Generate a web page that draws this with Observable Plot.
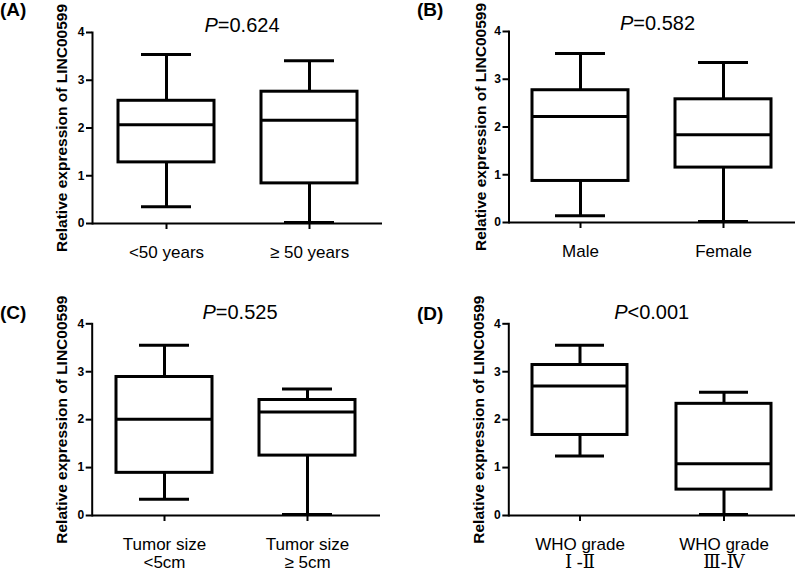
<!DOCTYPE html>
<html><head><meta charset="utf-8">
<script src="https://cdn.jsdelivr.net/npm/d3@7"></script>
<script src="https://cdn.jsdelivr.net/npm/@observablehq/plot@0.6"></script>
<style>
html,body{margin:0;padding:0;background:#fff;}
#fig{position:relative;width:800px;height:572px;overflow:hidden;font-family:"Liberation Sans",Arial,sans-serif;color:#000;background:#fff;}
.panel{position:absolute;}
.panel svg{overflow:visible;}
.letter{position:absolute;font-weight:bold;font-size:19px;line-height:19px;white-space:nowrap;}
.ptitle{position:absolute;font-size:20px;line-height:20px;transform:translateX(-50%);white-space:nowrap;}
</style></head><body><div id="fig"></div>
<script>
// ---- shared ----
const yTicks = [0, 1, 2, 3, 4];
const yLabel = "Relative expression of LINC00599";
const panelLetters = ["(A)", "(B)", "(C)", "(D)"];
const pSymbols = ["=0.624", "=0.582", "=0.525", "<0.001"];

// ---- Panel A: age ----
const groupsA = ["<50 years", "≥ 50 years"];
const lowA    = [0.35, 0.02];
const q1A     = [1.28, 0.84];
const medianA = [2.07, 2.16];
const q3A     = [2.57, 2.76];
const highA   = [3.54, 3.41];

// ---- Panel B: gender ----
const groupsB = ["Male", "Female"];
const lowB    = [0.14, 0.02];
const q1B     = [0.87, 1.15];
const medianB = [2.22, 1.84];
const q3B     = [2.77, 2.58];
const highB   = [3.54, 3.35];

// ---- Panel C: tumor size ----
const groupsC = ["Tumor size\n<5cm", "Tumor size\n≥ 5cm"];
const lowC    = [0.34, 0.02];
const q1C     = [0.89, 1.25];
const medianC = [2.01, 2.16];
const q3C     = [2.89, 2.41];
const highC   = [3.55, 2.64];

// ---- Panel D: WHO grade ----
const groupsD = ["WHO grade\nⅠ -Ⅱ", "WHO grade\nⅢ-Ⅳ"];
const lowD    = [1.24, 0.02];
const q1D     = [1.68, 0.54];
const medianD = [2.70, 1.08];
const q3D     = [3.14, 2.33];
const highD   = [3.55, 2.57];

const panels = [
  {groups: groupsA, low: lowA, q1: q1A, median: medianA, q3: q3A, high: highA,
   left: 0, top: 0, ml: 92, mr: 18, mt: 32, mb: 63, pi: 0.33, po: 0.176,
   letterLeft: 0, letterTop: 0, titleX: 242, titleTop: 15, ylDx: -30,
   l2Dy: 40, l2Size: 17, l2Font: "Liberation Sans, Arial, sans-serif"},
  {groups: groupsB, low: lowB, q1: q1B, median: medianB, q3: q3B, high: highB,
   left: 400, top: 0, ml: 108.5, mr: 5, mt: 31, mb: 64, pi: 0.331, po: 0.164,
   letterLeft: 417, letterTop: 0, titleX: 257.5, titleTop: 13, ylDx: -28,
   l2Dy: 40, l2Size: 17, l2Font: "Liberation Sans, Arial, sans-serif"},
  {groups: groupsC, low: lowC, q1: q1C, median: medianC, q3: q3C, high: highC,
   left: 0, top: 286, ml: 91.7, mr: 20, mt: 37.3, mb: 57, pi: 0.33, po: 0.17,
   letterLeft: 0, letterTop: 303, titleX: 240, titleTop: 302.4, ylDx: -30,
   l2Dy: 40, l2Size: 17, l2Font: "Liberation Sans, Arial, sans-serif"},
  {groups: groupsD, low: lowD, q1: q1D, median: medianD, q3: q3D, high: highD,
   left: 400, top: 286, ml: 108.3, mr: 5, mt: 37.3, mb: 57, pi: 0.338, po: 0.158,
   letterLeft: 417, letterTop: 304, titleX: 251.7, titleTop: 302.4, ylDx: -30,
   l2Dy: 40, l2Size: 18, l2Font: "Liberation Serif, DejaVu Serif, serif"}
];

const fig = document.getElementById("fig");
const line1 = d => d.split("\n")[0];
const line2 = d => d.split("\n")[1] ?? "";

panels.forEach((p, k) => {
  const data = p.groups.map((g, i) => ({group: g, low: p.low[i], q1: p.q1[i], median: p.median[i], q3: p.q3[i], high: p.high[i]}));
  const chart = Plot.plot({
    width: 400, height: 286,
    marginLeft: p.ml, marginRight: p.mr, marginTop: p.mt, marginBottom: p.mb,
    style: {fontFamily: "Liberation Sans, Arial, sans-serif", background: "transparent", overflow: "visible", color: "#000"},
    x: {domain: p.groups, paddingInner: p.pi, paddingOuter: p.po, label: null},
    y: {domain: [0, 4], label: null},
    marks: [
      Plot.ruleX(data, {x: "group", y1: "low", y2: "q1", stroke: "#000", strokeWidth: 3}),
      Plot.ruleX(data, {x: "group", y1: "q3", y2: "high", stroke: "#000", strokeWidth: 3}),
      Plot.barY(data, {x: "group", y1: "q1", y2: "q3", fill: "#fff", stroke: "#000", strokeWidth: 3}),
      Plot.tickY(data, {x: "group", y: "median", stroke: "#000", strokeWidth: 3}),
      Plot.tickY(data, {x: "group", y: "high", stroke: "#000", strokeWidth: 3, insetLeft: 23, insetRight: 23}),
      Plot.tickY(data, {x: "group", y: "low", stroke: "#000", strokeWidth: 3, insetLeft: 23, insetRight: 23}),
      Plot.ruleY([0], {stroke: "#000", strokeWidth: 2}),
      Plot.frame({anchor: "left", stroke: "#000", strokeWidth: 2}),
      Plot.axisY({ticks: yTicks, tickFormat: d => String(d), tickSize: 6, tickPadding: 2, fontSize: 12, fontWeight: "bold", stroke: "#000", strokeWidth: 2, label: null}),
      Plot.axisX({tickSize: 6, tickPadding: 16, fontSize: 17, stroke: "#000", strokeWidth: 2, tickFormat: line1, label: null}),
      Plot.text(data, {x: "group", text: d => line2(d.group), frameAnchor: "bottom", lineAnchor: "top", dy: p.l2Dy, fontSize: p.l2Size, fontFamily: p.l2Font, fill: "#000"}),
      Plot.text([yLabel], {frameAnchor: "left", textAnchor: "middle", rotate: -90, dx: p.ylDx, fontSize: 15.5, fontWeight: "bold", fill: "#000"})
    ]
  });
  const holder = document.createElement("div");
  holder.className = "panel";
  holder.style.left = p.left + "px";
  holder.style.top = p.top + "px";
  holder.appendChild(chart);
  fig.appendChild(holder);

  const letter = document.createElement("div");
  letter.className = "letter";
  letter.style.left = p.letterLeft + "px";
  letter.style.top = p.letterTop + "px";
  letter.textContent = panelLetters[k];
  fig.appendChild(letter);

  const title = document.createElement("div");
  title.className = "ptitle";
  title.style.left = (p.left + p.titleX) + "px";
  title.style.top = p.titleTop + "px";
  const it = document.createElement("i");
  it.textContent = "P";
  title.appendChild(it);
  title.appendChild(document.createTextNode(pSymbols[k]));
  fig.appendChild(title);
});
</script></body></html>
